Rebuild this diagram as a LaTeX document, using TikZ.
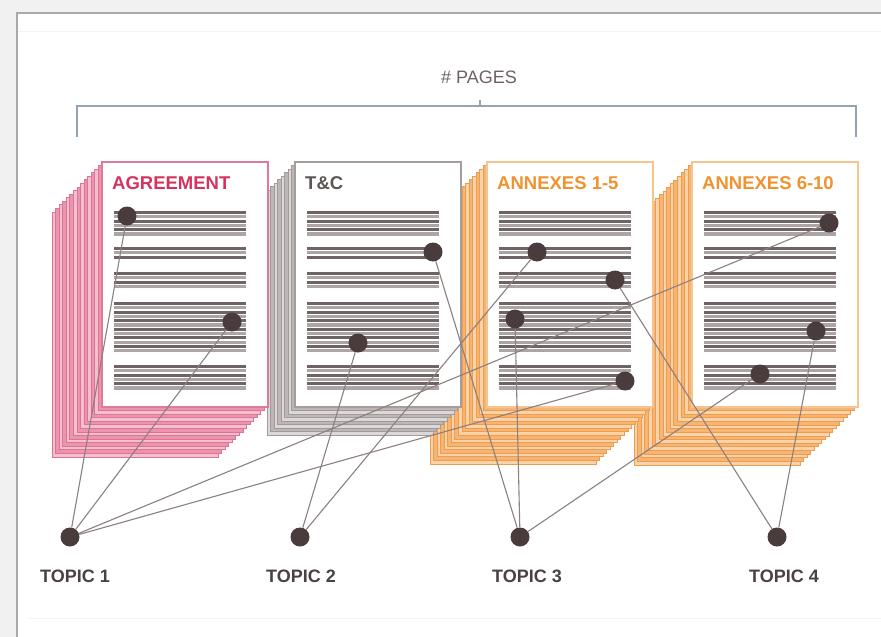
\documentclass[tikz,border=0pt]{standalone}
\usepackage{fontspec}
\setmainfont{Liberation Sans}
\definecolor{bgc}{HTML}{F1F1F1}
\definecolor{framec}{HTML}{A9A9A9}
\definecolor{faintc}{HTML}{F4F4F4}
\definecolor{bracketc}{HTML}{96A4B2}
\definecolor{pagesc}{HTML}{6E6262}
\definecolor{pinkedge}{HTML}{DF7393}
\definecolor{pinkmid}{HTML}{EA94AE}
\definecolor{pinklight}{HTML}{F4C0CF}
\definecolor{pinkborder}{HTML}{E07A98}
\definecolor{pinktext}{HTML}{D3335E}
\definecolor{grayedge}{HTML}{A39A9A}
\definecolor{graymid}{HTML}{BDB6B6}
\definecolor{graylight}{HTML}{DDD8D8}
\definecolor{grayborder}{HTML}{A59C9C}
\definecolor{graytext}{HTML}{5E5555}
\definecolor{orgedge}{HTML}{F19C4C}
\definecolor{orgmid}{HTML}{F5B574}
\definecolor{orglight}{HTML}{F9D3AA}
\definecolor{orgborder}{HTML}{F7C38F}
\definecolor{orgtext}{HTML}{F0922E}
\definecolor{stripedark}{HTML}{6E6464}
\definecolor{stripelight}{HTML}{ADA5A5}
\definecolor{linkc}{HTML}{8C8080}
\definecolor{dotc}{HTML}{4A3C3C}
\definecolor{topicc}{HTML}{4A4242}
\begin{document}
\begin{tikzpicture}[x=1pt,y=-1pt,
  dot/.style={circle, fill=dotc, inner sep=0pt, minimum size=19pt},
  link/.style={draw=linkc, line width=1.1pt},
  doctitle/.style={font=\fontsize{18.5}{18.5}\selectfont\bfseries, anchor=west, inner sep=0pt},
  topiclabel/.style={font=\fontsize{18}{18}\selectfont\bfseries, text=topicc, inner sep=0pt}]
\useasboundingbox (0,0) rectangle (881,637);
\fill[bgc] (0,0) rectangle (881,637);
\fill[white] (17,13) rectangle (881,637);
\draw[line width=2pt, framec] (17,637) -- (17,13) -- (881,13);
\draw[line width=1pt, faintc] (18,31) -- (881,31);
\draw[line width=1pt, faintc] (28,618) -- (881,618);
% page count bracket
\node[font=\fontsize{18}{18}\selectfont, text=pagesc, inner sep=0pt] (pages) at (479,77) {\# PAGES};
\draw[bracketc, line width=2.5pt] (77,137) -- (77,106) -- (856,106) -- (856,137);
\draw[bracketc, line width=1.5pt] (480,106) -- (480,100);
% document stacks, right to left
\foreach \px/\off/\nl/\ce/\cm/\cl/\cb/\ct/\name in {692/58/16/orgedge/orgmid/orglight/orgborder/orgtext/ANNEXES 6-10,
    487/57/16/orgedge/orgmid/orglight/orgborder/orgtext/ANNEXES 1-5,
    295/28/8/grayedge/graymid/graylight/grayborder/graytext/T\&C,
    102/50/14/pinkedge/pinkmid/pinklight/pinkborder/pinktext/AGREEMENT}{
  \foreach \i in {\nl,...,1}{
    \pgfmathsetmacro\s{\i*\off/\nl}
    \pgfmathtruncatemacro\odd{mod(\i,2)}
    \ifnum\odd=1 \def\fc{\cm}\else\def\fc{\cl}\fi
    \draw[line width=0.9pt, draw=\ce, fill=\fc] (\px-\s,162+\s) rectangle (\px+166-\s,407+\s);
  }
  \draw[line width=1.5pt, draw=\cb, fill=white] (\px,162) rectangle (\px+166,407);
  \node[doctitle, text=\ct] at (\px+10,183) {\name};
  \foreach \ys/\n in {211/6,247/3,272/4,302/12,365/6}{
    \foreach \k in {1,...,\n}{
      \pgfmathtruncatemacro\odd{mod(\k,2)}
      \ifnum\odd=1 \def\sc{stripedark}\else\def\sc{stripelight}\fi
      \pgfmathsetmacro\yy{\ys+(\k-1)*4.3+1.5}
      \draw[line width=3.1pt, draw=\sc] (\px+12,\yy) -- (\px+144,\yy);
    }
  }
}
% topic hits
\node[dot] (pid0) at (127,216){};
\node[dot] (pid1) at (232,322){};
\node[dot] (pid2) at (433,252){};
\node[dot] (pid3) at (358,343){};
\node[dot] (pid4) at (537,252){};
\node[dot] (pid5) at (615,280){};
\node[dot] (pid6) at (515,319){};
\node[dot] (pid7) at (625,381){};
\node[dot] (pid8) at (829,223){};
\node[dot] (pid9) at (816,331){};
\node[dot] (pid10) at (760,374){};
\node[dot] (tid1) at (70,537){};
\node[dot] (tid2) at (300,537){};
\node[dot] (tid3) at (520,537){};
\node[dot] (tid4) at (777,537){};
\node[topiclabel] (tlab1) at (75,576) {TOPIC 1};
\node[topiclabel] (tlab2) at (301,576) {TOPIC 2};
\node[topiclabel] (tlab3) at (527,576) {TOPIC 3};
\node[topiclabel] (tlab4) at (784,576) {TOPIC 4};
\draw[link](tid1) -- (pid0);
\draw[link](tid1) -- (pid1);
\draw[link](tid1) -- (pid7);
\draw[link](tid1) -- (pid8);
\draw[link](tid2) -- (pid3);
\draw[link](tid2) -- (pid4);
\draw[link](tid3) -- (pid2);
\draw[link](tid3) -- (pid6);
\draw[link](tid3) -- (pid10);
\draw[link](tid4) -- (pid5);
\draw[link](tid4) -- (pid9);
\end{tikzpicture}
\end{document}
